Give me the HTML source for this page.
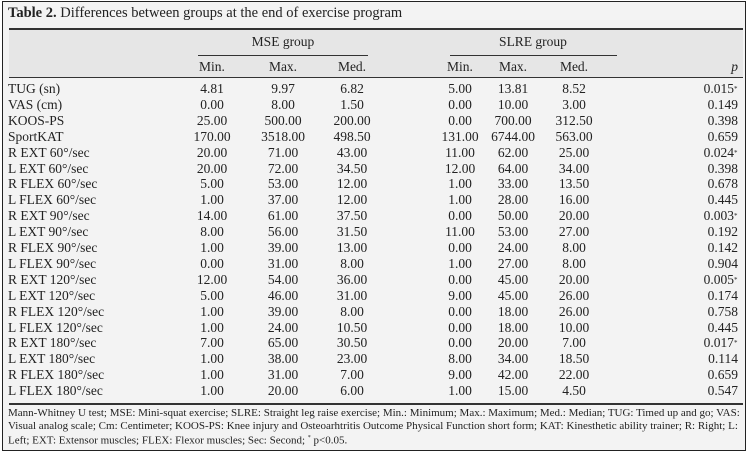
<!DOCTYPE html>
<html><head><meta charset="utf-8"><style>
body{margin:0;background:#fff;width:751px;height:456px;position:relative;font-family:"Liberation Serif",serif;color:#222;overflow:hidden}
#box{position:absolute;left:2px;top:1px;width:742px;height:448px;border:1.5px solid #222;background:#f3f3f3}
.t{position:absolute;white-space:nowrap;font-size:13.5px;line-height:16px}
.c{transform:translateX(-50%)}
.r{transform:translateX(-100%)}
.hl{position:absolute;background:#333}
</style></head><body>
<div id="box"></div>
<div class="t" style="left:8px;top:5px;font-size:14.5px"><b>Table 2.</b> Differences between groups at the end of exercise program</div>
<div style="position:absolute;left:9px;top:29px;width:734px;height:48px;background:#e6e6e6"></div>
<div class="hl" style="left:9px;top:28px;width:734px;height:2px"></div>
<div class="hl" style="left:9px;top:77px;width:734px;height:1px"></div>
<div class="hl" style="left:198px;top:55px;width:170px;height:1px"></div>
<div class="hl" style="left:450px;top:55px;width:167px;height:1px"></div>
<div class="hl" style="left:9px;top:403px;width:734px;height:1.5px"></div>
<div class="t c" style="left:283px;top:34px">MSE group</div>
<div class="t c" style="left:533px;top:34px">SLRE group</div>
<div id="rows"></div>
<div style="position:absolute;left:8px;top:407px;width:736px;font-size:11px;line-height:12.5px;white-space:nowrap">Mann-Whitney U test; MSE: Mini-squat exercise; SLRE: Straight leg raise exercise; Min.: Minimum; Max.: Maximum; Med.: Median; TUG: Timed up and go; VAS:<br>Visual analog scale; Cm: Centimeter; KOOS-PS: Knee injury and Osteoarhtritis Outcome Physical Function short form; KAT: Kinesthetic ability trainer; R: Right; L:<br>Left; EXT: Extensor muscles; FLEX: Flexor muscles; Sec: Second; <sup style="font-size:6px">*</sup> p&lt;0.05.</div>
<script>
var d=[["TUG (sn)","4.81","9.97","6.82","5.00","13.81","8.52","0.015*"],
["VAS (cm)","0.00","8.00","1.50","0.00","10.00","3.00","0.149"],
["KOOS-PS","25.00","500.00","200.00","0.00","700.00","312.50","0.398"],
["SportKAT","170.00","3518.00","498.50","131.00","6744.00","563.00","0.659"],
["R EXT 60°/sec","20.00","71.00","43.00","11.00","62.00","25.00","0.024*"],
["L EXT 60°/sec","20.00","72.00","34.50","12.00","64.00","34.00","0.398"],
["R FLEX 60°/sec","5.00","53.00","12.00","1.00","33.00","13.50","0.678"],
["L FLEX 60°/sec","1.00","37.00","12.00","1.00","28.00","16.00","0.445"],
["R EXT 90°/sec","14.00","61.00","37.50","0.00","50.00","20.00","0.003*"],
["L EXT 90°/sec","8.00","56.00","31.50","11.00","53.00","27.00","0.192"],
["R FLEX 90°/sec","1.00","39.00","13.00","0.00","24.00","8.00","0.142"],
["L FLEX 90°/sec","0.00","31.00","8.00","1.00","27.00","8.00","0.904"],
["R EXT 120°/sec","12.00","54.00","36.00","0.00","45.00","20.00","0.005*"],
["L EXT 120°/sec","5.00","46.00","31.00","9.00","45.00","26.00","0.174"],
["R FLEX 120°/sec","1.00","39.00","8.00","0.00","18.00","26.00","0.758"],
["L FLEX 120°/sec","1.00","24.00","10.50","0.00","18.00","10.00","0.445"],
["R EXT 180°/sec","7.00","65.00","30.50","0.00","20.00","7.00","0.017*"],
["L EXT 180°/sec","1.00","38.00","23.00","8.00","34.00","18.50","0.114"],
["R FLEX 180°/sec","1.00","31.00","7.00","9.00","42.00","22.00","0.659"],
["L FLEX 180°/sec","1.00","20.00","6.00","1.00","15.00","4.50","0.547"]];
var xs=[212,283,352,460,513,574];
var h='';
function t(x,y,s,cls){h+='<div class="t '+cls+'" style="left:'+x+'px;top:'+y+'px">'+s+'</div>';}
var hd=["Min.","Max.","Med.","Min.","Max.","Med."];
for(var i=0;i<6;i++)t(xs[i],59,hd[i],'c');
t(738,59,'<i>p</i>','r');
for(var r=0;r<d.length;r++){var y=81+r*15.9;
t(8,y,d[r][0],'');
for(var i=0;i<6;i++)t(xs[i],y,d[r][i+1],'c');
var p=d[r][7].replace('*','<sup style="font-size:7px;position:absolute">*</sup>');
t(d[r][7].indexOf('*')>=0?734:738,y,p,'r');}
document.getElementById('rows').innerHTML=h;
</script>
</body></html>
